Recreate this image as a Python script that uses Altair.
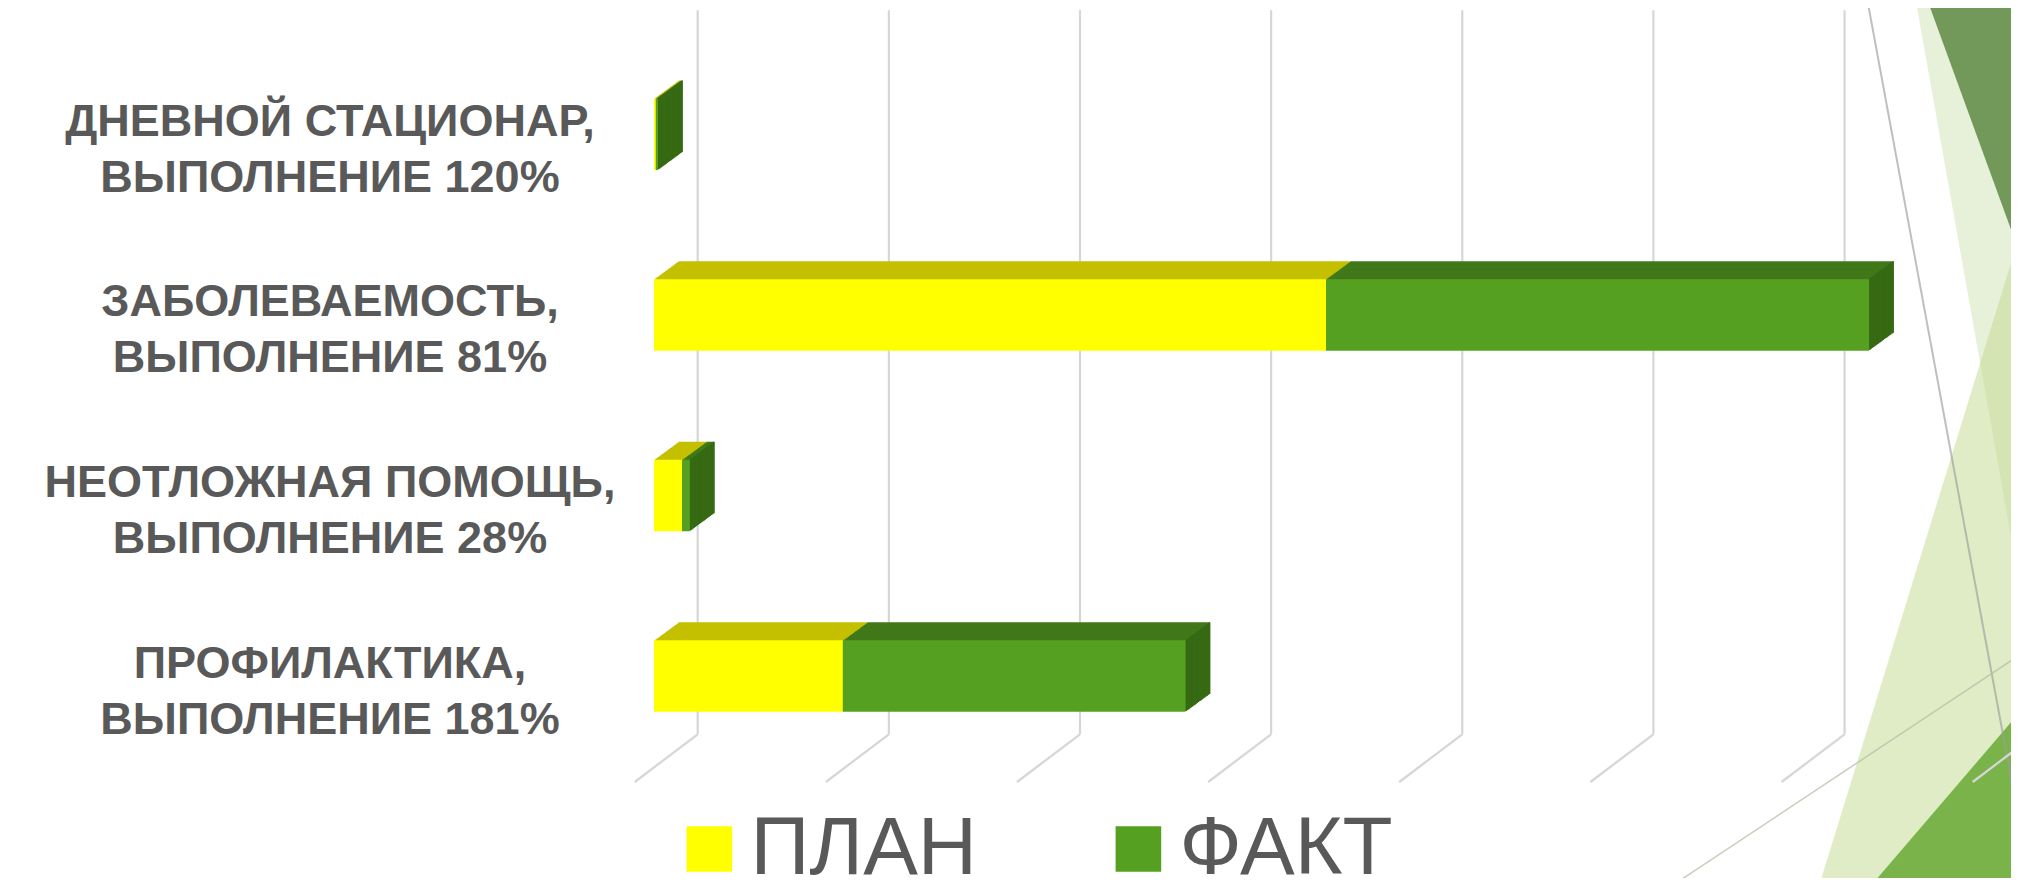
import altair as alt
import pandas as pd

# ---------------- data ----------------
categories = [
    "ДНЕВНОЙ СТАЦИОНАР,\nВЫПОЛНЕНИЕ 120%",
    "ЗАБОЛЕВАЕМОСТЬ,\nВЫПОЛНЕНИЕ 81%",
    "НЕОТЛОЖНАЯ ПОМОЩЬ,\nВЫПОЛНЕНИЕ 28%",
    "ПРОФИЛАКТИКА,\nВЫПОЛНЕНИЕ 181%",
]
plan = [95, 35160, 1465, 9880]
fact = [114, 28410, 410, 17930]
series = ["ПЛАН", "ФАКТ"]
grid_values = [0, 10000, 20000, 30000, 40000, 50000, 60000, 70000]

# ---------------- style ----------------
front_colors = ["#ffff00", "#55a021"]
top_colors = ["#c4c000", "#40791a"]
side_color = "#366913"
grid_color = "#d6d6d6"
text_color = "#595959"

W, H = 1338, 722.4
PAD_L, PAD_T, PAD_R = 646, 36, 19
PAD_B = 870 - PAD_T - H
OX, OY = 8 + PAD_L, 8 + PAD_T  # page position of plot origin

DX, DY, N = 24.5, 18.0, 20  # depth of the 3D bars
GRID_DX, GRID_TOP, GRID_BOTTOM = 43.7, 10.2 - OY, 734.3 - OY
FLOOR_DX, FLOOR_BOTTOM = -19.3, 782 - OY
LABEL_X = 330 - OX
LABEL_LH = 56

rows = []
for c, p, f in zip(categories, plan, fact):
    rows.append({"cat": c, "series": series[0], "start": 0, "end": p})
    rows.append({"cat": c, "series": series[1], "start": p, "end": p + f})
df = pd.DataFrame(rows)
df_plan = df[df.series == series[0]]
df_fact = df[df.series == series[1]]
df_lab = pd.DataFrame({"cat": categories, "lines": [c.split("\n") for c in categories]})

xscale = alt.Scale(domain=[0, 70000], nice=False, zero=True)
yscale = alt.Scale(domain=categories, paddingInner=0.604, paddingOuter=0.302)

X = alt.X("start:Q", scale=xscale, axis=None)
X2 = alt.X2("end:Q")
Ynoax = alt.Y("cat:N", sort=categories, scale=yscale, axis=None)

layers = []

# ---------------- slide decoration (background triangles) ----------------
def path(points):
    return "M" + " L".join(f"{x - OX:.1f},{y - OY:.1f}" for x, y in points) + (" Z" if len(points) > 2 else "")

one = pd.DataFrame({"d": [0]})
deco = [
    ([(1913.9, -10), (2040, -10), (2040, 700)], "#e7f0d8", 1.0),
    ([(1923.7, -10), (2040, -10), (2040, 308.9)], "#72995a", 1.0),
    ([(1814.7, 900), (2040, 169), (2040, 900)], "#c5dc95", 0.55),
    ([(1858.7, 900), (2040, 688.5), (2040, 900)], "#7ab34a", 1.0),
]
for pts, col, op in deco:
    layers.append(
        alt.Chart(one).mark_point(shape=path(pts), size=4, filled=True, fill=col,
                                  opacity=op, strokeWidth=0)
        .encode(x=alt.value(0), y=alt.value(0))
    )
deco_lines = [
    ([(1865.5, -10), (2033, 897)], "#9e9e9e", 0.65, 2),
    ([(1655, 897), (2040, 641.5)], "#b9c4ad", 0.8, 1.5),
]
for pts, col, op, sw in deco_lines:
    layers.append(
        alt.Chart(one).mark_point(shape=path(pts), size=4, filled=False, stroke=col,
                                  opacity=op, strokeWidth=sw)
        .encode(x=alt.value(0), y=alt.value(0))
    )

# ---------------- gridlines (back wall + floor) ----------------
gdf = pd.DataFrame({"v": grid_values})
layers.append(
    alt.Chart(gdf).mark_rule(color=grid_color, strokeWidth=2.2, xOffset=GRID_DX)
    .encode(x=alt.X("v:Q", scale=xscale, axis=None),
            y=alt.value(GRID_TOP), y2=alt.value(GRID_BOTTOM))
)
layers.append(
    alt.Chart(gdf).mark_rule(color=grid_color, strokeWidth=2.2, xOffset=GRID_DX, x2Offset=FLOOR_DX)
    .encode(x=alt.X("v:Q", scale=xscale, axis=None), x2="v:Q",
            y=alt.value(GRID_BOTTOM), y2=alt.value(FLOOR_BOTTOM))
)

# ---------------- 3D top faces ----------------
for sdf, col in [(df_plan, top_colors[0]), (df_fact, top_colors[1])]:
    for k in range(N, 0, -1):
        dx, dy = DX * k / N, DY * k / N
        layers.append(
            alt.Chart(sdf).mark_bar(color=col, xOffset=dx, x2Offset=dx, yOffset=-dy)
            .encode(x=X, x2=X2, y=Ynoax)
        )

# ---------------- 3D side face of the last segment ----------------
for k in range(1, N + 1):
    dx0, dx1, dy = DX * (k - 1) / N, DX * k / N, DY * k / N
    layers.append(
        alt.Chart(df_fact).mark_bar(color=side_color, xOffset=dx0, x2Offset=dx1 + 0.3, yOffset=-dy)
        .encode(x=alt.X("end:Q", scale=xscale, axis=None), x2="end:Q", y=Ynoax)
    )

# ---------------- front faces and legend ----------------
front = alt.Chart(df).mark_bar().encode(
    x=X, x2=X2, y=Ynoax,
    color=alt.Color("series:N", scale=alt.Scale(domain=series, range=front_colors),
                    legend=alt.Legend(title=None, orient="none", legendX=14.4, legendY=764,
                                      direction="horizontal", symbolType="square",
                                      symbolSize=2080, symbolStrokeWidth=0, symbolOpacity=1,
                                      labelFont="Liberation Sans Narrow, Liberation Sans",
                                      labelFontSize=82, labelColor=text_color,
                                      labelOffset=0, columnPadding=120, padding=0,
                                      labelLimit=1000)),
)
layers.append(front)

# ---------------- category labels ----------------
labels = alt.Chart(df_lab).mark_text(
    font="Liberation Sans", fontWeight="bold", fontSize=45, color=text_color,
    align="center", baseline="middle", lineHeight=LABEL_LH, dy=15.5 - LABEL_LH / 2,
).encode(x=alt.value(LABEL_X), y=Ynoax, text="lines")
layers.append(labels)

chart = alt.layer(*layers).properties(
    width=W, height=H,
    autosize=alt.AutoSizeParams(type="none"),
    padding={"left": PAD_L, "top": PAD_T, "right": PAD_R, "bottom": PAD_B},
    background="white",
).configure_view(stroke=None)

chart.save("out.html", embed_options={"renderer": "svg", "actions": False})
